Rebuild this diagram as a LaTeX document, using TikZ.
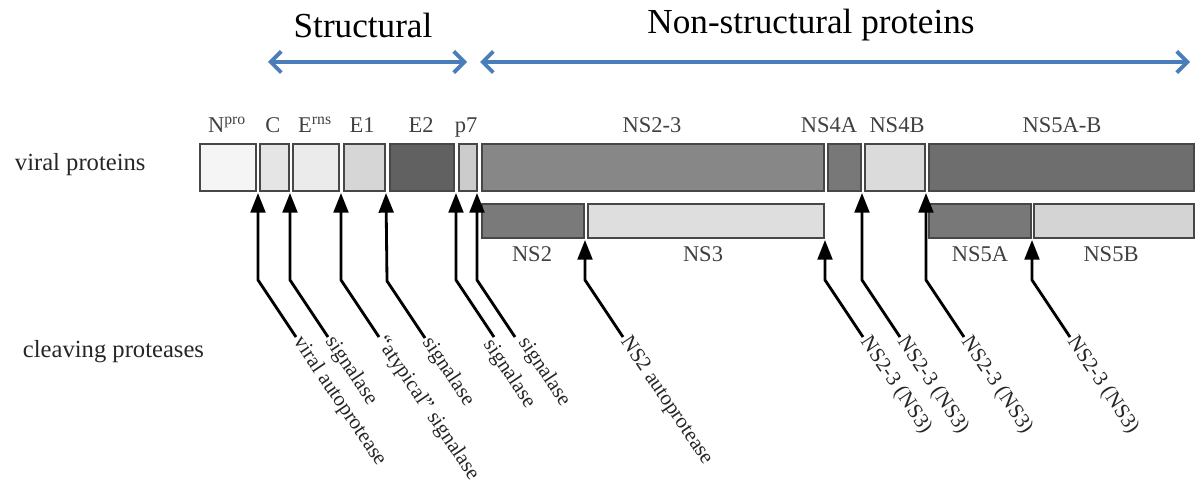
\documentclass[tikz,border=0pt]{standalone}
\usepackage{fontspec}
\setmainfont{Liberation Serif}
\usetikzlibrary{arrows.meta}
\definecolor{spanblue}{RGB}{74,126,187}
\newcommand{\px}{0.025cm}
\tikzset{
  box/.style={draw=black!72, line width=1.2pt, inner sep=0pt, anchor=north west},
  plab/.style={font=\fontsize{16}{18}\selectfont, text=black!75, anchor=base, inner sep=0pt},
  side/.style={font=\fontsize{17.5}{20}\selectfont, text=black!85, anchor=west},
  cut/.style={font=\fontsize{15}{17}\selectfont, text=black!85, rotate=-56, anchor=west, inner sep=1.5pt},
  cleave/.style={line width=2pt, -{Triangle[length=14pt,width=10.5pt]}},
  span/.style={spanblue, line width=2.7pt, {Straight Barb[length=7.5pt,width=15pt]}-{Straight Barb[length=7.5pt,width=15pt]}},
  title/.style={font=\fontsize{25}{30}\selectfont}
}
\begin{document}
\begin{tikzpicture}[x=\px, y=-\px]
      \useasboundingbox (0,0) rectangle (1197,504);
      \node[title] (tstruct) at (363,25) {Structural};
      \node[title] (tnonstruct) at (811,25) {Non-structural proteins};
      \coordinate (s1) at (268,62);
      \coordinate (s2) at (467,62);
      \coordinate (n1) at (480,62);
      \coordinate (n2) at (1190,62);
      \draw[span] (s1) -- (s2);
      \draw[span] (n1) -- (n2);
      \node[side] (vp) at (10,165) {viral proteins};
      \node[side] (cp) at (18,352) {cleaving proteases};
      \node[box, fill=black!4, minimum width=56*\px, minimum height=47*\px] (npro) at (199,143) {};
      \node[box, fill=black!10, minimum width=29*\px, minimum height=47*\px] (c) at (259,143) {};
      \node[box, fill=black!8, minimum width=46*\px, minimum height=47*\px] (erns) at (292,143) {};
      \node[box, fill=black!16, minimum width=41*\px, minimum height=47*\px] (e1) at (343,143) {};
      \node[box, fill=black!62, minimum width=64*\px, minimum height=47*\px] (e2) at (389,143) {};
      \node[box, fill=black!20, minimum width=18*\px, minimum height=47*\px] (p7) at (458,143) {};
      \node[box, fill=black!47, minimum width=342*\px, minimum height=47*\px] (ns23) at (481,143) {};
      \node[box, fill=black!53, minimum width=33*\px, minimum height=47*\px] (ns4a) at (827,143) {};
      \node[box, fill=black!14, minimum width=60*\px, minimum height=47*\px] (ns4b) at (864,143) {};
      \node[box, fill=black!57, minimum width=265*\px, minimum height=47*\px] (ns5ab) at (928,143) {};
      \node[box, fill=black!52, minimum width=102*\px, minimum height=34*\px] (ns2) at (481,203) {};
      \node[box, fill=black!13, minimum width=236*\px, minimum height=34*\px] (ns3) at (587,203) {};
      \node[box, fill=black!53, minimum width=102*\px, minimum height=34*\px] (ns5a) at (928,203) {};
      \node[box, fill=black!17, minimum width=160*\px, minimum height=34*\px] (ns5b) at (1033,203) {};
      \node[plab] (lnpro) at (227,133) {N\textsuperscript{pro}};
      \node[plab] (lc) at (273,133) {C};
      \node[plab] (lerns) at (315,133) {E\textsuperscript{rns}};
      \node[plab] (le1) at (362,133) {E1};
      \node[plab] (le2) at (421,133) {E2};
      \node[plab] (lp7) at (466,133) {p7};
      \node[plab] (lns23) at (652,133) {NS2-3};
      \node[plab] (lns4a) at (829,133) {NS4A};
      \node[plab] (lns4b) at (897,133) {NS4B};
      \node[plab] (lns5ab) at (1062,133) {NS5A-B};
      \node[plab] (lns2) at (532,262) {NS2};
      \node[plab] (lns3) at (703,262) {NS3};
      \node[plab] (lns5a) at (980,262) {NS5A};
      \node[plab] (lns5b) at (1111,262) {NS5B};
      \coordinate (g1) at (258,193);
      \coordinate (g2) at (290,193);
      \coordinate (g3) at (341,193);
      \coordinate (g4) at (386,193);
      \coordinate (g5) at (456,193);
      \coordinate (g6) at (477,193);
      \coordinate (g7) at (585,240);
      \coordinate (g8) at (825,240);
      \coordinate (g9) at (862,193);
      \coordinate (g10) at (926,193);
      \coordinate (g11) at (1032,240);
      \coordinate (k5) at (494,337);
      \coordinate (k6) at (515,337);
      \node[cut] (p1) at (296,337) {viral autoprotease};
      \node[cut] (p2) at (328,337) {signalase};
      \node[cut] (p3) at (379,337) {``atypical'' signalase};
      \node[cut] (p4) at (425,338) {signalase};
      \node[cut] (p5) at (486,340) {signalase};
      \node[cut] (p6) at (521,338) {signalase};
      \node[cut] (p7l) at (623,337) {NS2 autoprotease};
      \node[cut] (p8) at (863,337) {NS2-3 (NS3)};
      \node[cut] (p9) at (900,337) {NS2-3 (NS3)};
      \node[cut] (p10) at (964,337) {NS2-3 (NS3)};
      \node[cut] (p11) at (1070,337) {NS2-3 (NS3)};
      \begin{scope}[cleave]
        \draw (p1.west) -- ++(-38,-57) -- (g1);
        \draw (p2.west) -- ++(-38,-57) -- (g2);
        \draw (p3.west) -- ++(-38,-57) -- (g3);
        \draw (p4.west) -- ++(-38,-57) -- (g4);
        \draw (k5) -- ++(-38,-57) -- (g5);
        \draw (k6) -- ++(-38,-57) -- (g6);
        \draw (p7l.west) -- ++(-38,-57) -- (g7);
        \draw (p8.west) -- ++(-38,-57) -- (g8);
        \draw (p9.west) -- ++(-38,-57) -- (g9);
        \draw (p10.west) -- ++(-38,-57) -- (g10);
        \draw (p11.west) -- ++(-38,-57) -- (g11);
      \end{scope}
    \end{tikzpicture}
\end{document}
